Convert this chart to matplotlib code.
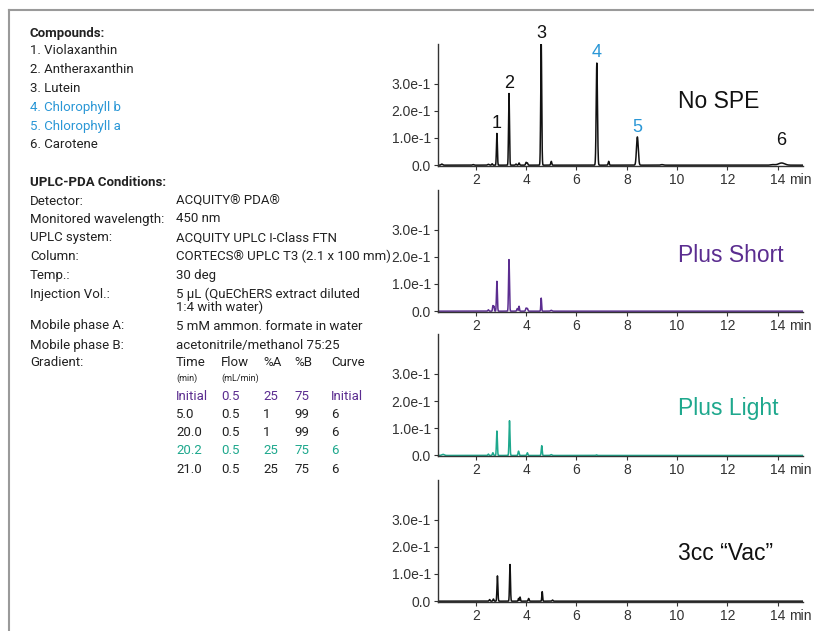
import numpy as np
import matplotlib.pyplot as plt
from matplotlib.lines import Line2D

# peak tables: retention time (min), height (AU), width (min)
no_spe_rt = [0.65, 1.9, 2.5, 2.65, 2.84, 3.32, 3.6, 3.72, 4.0, 4.05, 4.6, 5.0, 6.81, 7.28, 8.42, 9.4, 13.8, 14.15]
no_spe_h = [0.004, 0.002, 0.003, 0.005, 0.117, 0.264, 0.004, 0.008, 0.010, 0.008, 0.45, 0.014, 0.376, 0.014, 0.104, 0.002, 0.002, 0.008]
no_spe_w = [0.03, 0.03, 0.03, 0.02, 0.018, 0.018, 0.02, 0.02, 0.02, 0.02, 0.02, 0.02, 0.025, 0.02, 0.035, 0.05, 0.08, 0.12]

short_rt = [2.5, 2.68, 2.72, 2.84, 3.32, 3.65, 3.72, 4.0, 4.05, 4.6, 5.0]
short_h = [0.005, 0.020, 0.018, 0.11, 0.19, 0.010, 0.018, 0.011, 0.010, 0.048, 0.003]
short_w = [0.02, 0.015, 0.015, 0.018, 0.018, 0.02, 0.015, 0.02, 0.02, 0.015, 0.03]

light_rt = [0.7, 2.5, 2.68, 2.84, 3.34, 3.7, 4.05, 4.62, 5.0, 6.8]
light_h = [0.004, 0.005, 0.010, 0.09, 0.128, 0.016, 0.010, 0.036, 0.003, 0.002]
light_w = [0.05, 0.02, 0.02, 0.018, 0.018, 0.02, 0.02, 0.018, 0.03, 0.02]

vac_rt = [2.55, 2.7, 2.86, 3.36, 3.7, 3.76, 4.1, 4.64, 5.05]
vac_h = [0.006, 0.008, 0.093, 0.135, 0.010, 0.015, 0.010, 0.035, 0.004]
vac_w = [0.02, 0.02, 0.018, 0.018, 0.015, 0.015, 0.02, 0.015, 0.02]

panel_names = ["No SPE", "Plus Short", "Plus Light", "3cc \u201cVac\u201d"]
panel_colors = ["#111111", "#5b2d90", "#1ea88d", "#111111"]

peak_ids = ["1", "2", "3", "4", "5", "6"]
peak_id_rt = [2.84, 3.32, 4.6, 6.81, 8.42, 14.15]
peak_id_y = [0.153, 0.30, 0.484, 0.414, 0.139, 0.092]
peak_id_colors = ["#111111", "#111111", "#111111", "#2a97d6", "#2a97d6", "#111111"]

compounds = ["1. Violaxanthin", "2. Antheraxanthin", "3. Lutein",
             "4. Chlorophyll b", "5. Chlorophyll a", "6. Carotene"]
compound_colors = ["#222222", "#222222", "#222222", "#2a97d6", "#2a97d6", "#222222"]

cond_labels = ["Detector:", "Monitored wavelength:", "UPLC system:", "Column:", "Temp.:",
               "Injection Vol.:", "", "Mobile phase A:", "Mobile phase B:", "Gradient:"]
cond_values = ["ACQUITY\u00ae PDA\u00ae", "450 nm", "ACQUITY UPLC I-Class FTN",
               "CORTECS\u00ae UPLC T3 (2.1 x 100 mm)", "30 deg",
               "5 \u00b5L (QuEChERS extract diluted", "1:4 with water)",
               "5 mM ammon. formate in water", "acetonitrile/methanol 75:25", ""]
cond_y = [201, 219, 238, 256, 275, 294, 307, 326, 345, 363]

grad_head = ["Time", "Flow", "%A", "%B", "Curve"]
grad_units = ["(min)", "(mL/min)", "", "", ""]
grad_rows = [["Initial", "0.5", "25", "75", "Initial"],
             ["5.0", "0.5", "1", "99", "6"],
             ["20.0", "0.5", "1", "99", "6"],
             ["20.2", "0.5", "25", "75", "6"],
             ["21.0", "0.5", "25", "75", "6"]]
grad_colors = ["#5b2d90", "#222222", "#222222", "#1ea88d", "#222222"]

W, H = 814, 631
fig = plt.figure(figsize=(W / 100, H / 100), dpi=100)
txt_font = ["Roboto", "DejaVu Sans"]
ax_font = ["Liberation Sans", "DejaVu Sans"]
fs = 9.5


def fx(px):
    return px / W


def fy(py):
    return 1 - py / H


# grey frame on top and left
fig.add_artist(Line2D([fx(9), 1], [fy(10), fy(10)], color="#9a9a9a", lw=1.5))
fig.add_artist(Line2D([fx(9), fx(9)], [fy(10), 0], color="#9a9a9a", lw=1.5))

# left text block
fig.text(fx(30), fy(33), "Compounds:", fontsize=fs, fontweight="bold", color="#222222",
         va="center", family=txt_font)
for i, (c, col) in enumerate(zip(compounds, compound_colors)):
    fig.text(fx(30), fy(51 + i * 18.8), c, fontsize=fs, color=col, va="center", family=txt_font)

fig.text(fx(30), fy(183), "UPLC-PDA Conditions:", fontsize=fs, fontweight="bold",
         color="#222222", va="center", family=txt_font)
for lab, val, y in zip(cond_labels, cond_values, cond_y):
    fig.text(fx(30), fy(y), lab, fontsize=fs, color="#222222", va="center", family=txt_font)
    fig.text(fx(176), fy(y), val, fontsize=fs, color="#222222", va="center", family=txt_font)

grad_x = [176, 221, 263, 294, 331]
for x, h, u in zip(grad_x, grad_head, grad_units):
    fig.text(fx(x), fy(363), h, fontsize=fs, color="#222222", va="center", family=txt_font)
    fig.text(fx(x), fy(378), u, fontsize=6.5, color="#222222", va="center", family=txt_font)
for r, (row, col) in enumerate(zip(grad_rows, grad_colors)):
    for x, v in zip(grad_x, row):
        fig.text(fx(x), fy(396 + r * 18.3), v, fontsize=fs, color=col, va="center",
                 family=txt_font)

# chromatograms
t = np.linspace(0.5, 15, 4000)
traces = [(no_spe_rt, no_spe_h, no_spe_w), (short_rt, short_h, short_w),
          (light_rt, light_h, light_w), (vac_rt, vac_h, vac_w)]
baselines = [165.7, 311.7, 456.0, 601.7]
ax_h = 122
label_y = [101.7, 256, 409, 553]

for k, ((rt, hh, ww), base) in enumerate(zip(traces, baselines)):
    ax = fig.add_axes([fx(438), fy(base), fx(803) - fx(438), ax_h / H])
    sig = np.zeros_like(t)
    for r0, h0, w0 in zip(rt, hh, ww):
        sig += h0 * np.exp(-0.5 * ((t - r0) / w0) ** 2)
    ax.plot(t, sig, color=panel_colors[k], lw=1.1)
    ax.set_xlim(0.5, 15)
    ax.set_ylim(-0.002, 0.447)
    ax.spines["top"].set_visible(False)
    ax.spines["right"].set_visible(False)
    for s in ["left", "bottom"]:
        ax.spines[s].set_color("#333333")
        ax.spines[s].set_linewidth(1.0)
    ax.set_yticks([0, 0.1, 0.2, 0.3])
    ax.set_yticklabels(["0.0", "1.0e-1", "2.0e-1", "3.0e-1"])
    ax.set_xticks([2, 4, 6, 8, 10, 12, 14])
    ax.set_xticklabels(["2", "4", "6", "8", "10", "12", "14"])
    ax.tick_params(length=3, width=0.8, pad=2, labelsize=10, colors="#333333")
    for lab in ax.get_xticklabels() + ax.get_yticklabels():
        lab.set_family(ax_font)
    ax.annotate("min", xy=(14, 0), xycoords=("data", "axes fraction"), xytext=(8, -5),
                textcoords="offset points", ha="left", va="top", fontsize=10,
                color="#333333", family=ax_font, annotation_clip=False)
    fig.text(fx(678), fy(label_y[k]), panel_names[k], fontsize=16.5, color=panel_colors[k],
             va="center", ha="left", family=ax_font)
    if k == 0:
        for pid, x, y, col in zip(peak_ids, peak_id_rt, peak_id_y, peak_id_colors):
            ax.text(x, y, pid, fontsize=13, color=col, ha="center", va="center",
                    family=ax_font, clip_on=False)

fig.savefig("out.png", dpi=100)
